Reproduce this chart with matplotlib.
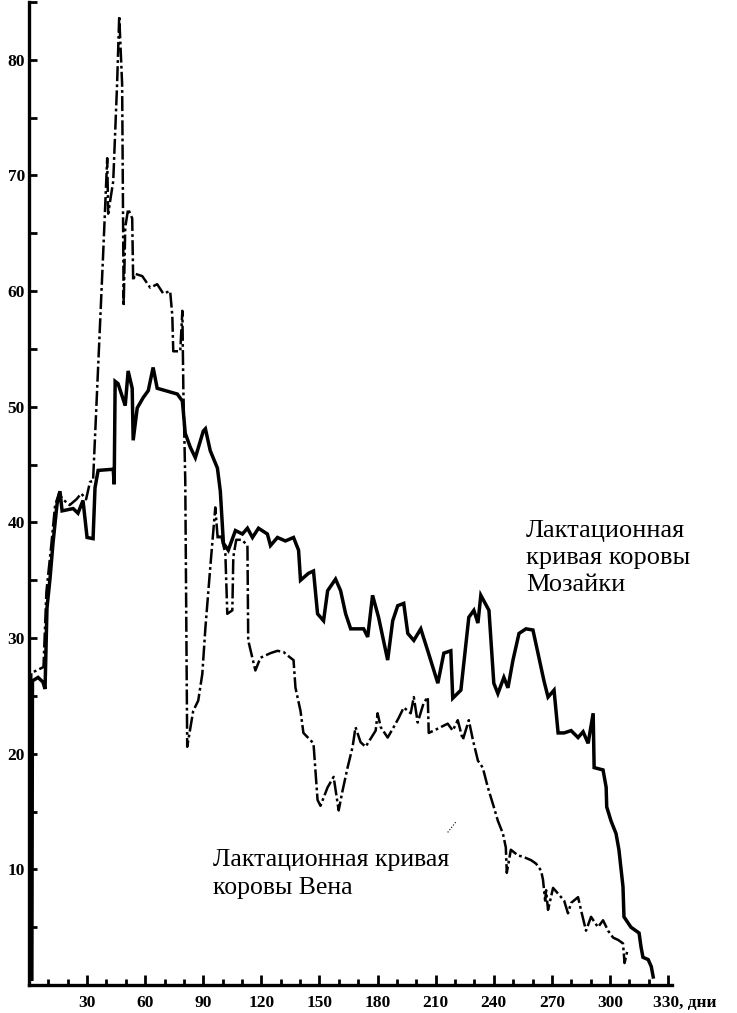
"""Lactation curves of two cows (Мозайка and Вена), scanned-figure style."""

import matplotlib

matplotlib.use("Agg")
import matplotlib.pyplot as plt
from matplotlib.ticker import MultipleLocator
import matplotlib.transforms as mtransforms

# ---------------------------------------------------------------------------
# Data: day of lactation -> daily milk yield
# ---------------------------------------------------------------------------
MOZAIKA_DAYS = [
    1.5, 1.8, 4.7, 7.2, 8.3, 9.3, 10.9, 12.4, 14.5, 16.0, 17.1, 22.8, 25.3,
    27.9, 30.0, 33.1, 34.1, 35.7, 43.5, 44.0, 44.5, 46.0, 49.7, 51.2, 53.3,
    53.8, 55.9, 59.0, 61.6, 64.1, 66.2, 70.4, 76.6, 79.2, 80.7, 83.3, 85.9,
    90.0, 91.1, 93.6, 97.3, 98.8, 100.4, 102.9, 106.6, 110.2, 112.8, 115.4,
    118.5, 123.1, 124.7, 128.3, 132.4, 136.6, 139.2, 140.2, 144.3, 146.9,
    149.0, 152.1, 154.2, 158.3, 160.9, 163.5, 166.1, 172.8, 174.9, 177.4,
    180.5, 185.2, 187.8, 190.4, 193.5, 195.6, 198.7, 202.3, 205.9, 211.1,
    214.2, 217.8, 218.8, 223.0, 227.1, 229.7, 231.8, 233.3, 237.5, 240.0,
    242.1, 245.2, 247.3, 249.9, 253.0, 256.6, 260.2, 262.8, 265.9, 268.0,
    271.1, 273.2, 276.3, 279.9, 283.5, 286.1, 288.7, 291.3, 291.8, 296.4,
    298.0, 298.3, 300.5, 303.1, 304.6, 306.7, 307.2, 310.8, 315.0, 316.0,
    317.0, 319.7, 321.3, 322.3,
]
MOZAIKA_YIELD = [
    0.5, 26.3, 26.6, 26.2, 25.6, 32.6, 35.2, 38.2, 41.6, 42.7, 41.0, 41.2, 40.8,
    41.9, 38.7, 38.6, 43.0, 44.5, 44.6, 43.3, 52.2, 52.0, 50.1, 53.1, 51.6,
    47.1, 49.9, 50.8, 51.4, 53.4, 51.6, 51.4, 51.1, 50.5, 47.7, 46.5, 45.6,
    47.9, 48.1, 46.2, 44.7, 42.7, 38.2, 37.6, 39.3, 39.0, 39.5, 38.7,
    39.5, 39.0, 38.0, 38.7, 38.4, 38.7, 37.6, 35.0, 35.6, 35.8,
    32.1, 31.5, 34.1, 35.1, 34.1, 32.1, 30.8, 30.8, 30.1, 33.7,
    31.8, 28.1, 31.5, 32.8, 33.0, 30.4, 29.8, 30.8, 28.9, 26.1,
    28.7, 28.9, 24.8, 25.5, 31.8, 32.4, 31.3, 33.7, 32.4, 26.1,
    25.2, 26.6, 25.7, 28.1, 30.4, 30.8, 30.7, 28.7, 26.3, 24.9,
    25.5, 21.8, 21.8, 22.0, 21.4, 21.9, 20.9, 23.5, 18.8, 18.6,
    17.1, 15.4, 14.2, 13.1, 11.7, 8.5, 5.9, 5.0, 4.5, 3.3,
    2.4, 2.2, 1.6, 0.7,
]

VENA_DAYS = [
    0.8, 1.2, 4.0, 7.5, 9.0, 11.5, 13.5, 15.5, 17.5, 21.0, 24.5, 27.0, 29.5,
    31.5, 33.1, 38.3, 40.4, 40.9, 43.5, 45.5, 46.6, 48.1, 48.6, 48.9, 49.7,
    51.2, 53.3, 53.8, 54.8, 58.5, 62.6, 66.2, 69.3, 72.9, 74.0, 74.5, 78.1,
    79.2, 79.7, 80.7, 81.7, 84.8, 87.4, 89.5, 91.1, 93.6, 96.2, 97.5, 99.0,
    101.4, 102.4, 105.0, 105.5, 107.0, 110.0, 112.8, 113.2, 116.9, 119.5,
    124.7, 128.3, 131.4, 135.0, 136.6, 137.6, 140.2, 141.7, 146.9, 149.0,
    150.5, 154.2, 157.3, 159.9, 161.9, 164.5, 167.1, 168.6, 171.2, 173.8,
    179.0, 180.0, 181.6, 185.2, 188.3, 190.9, 193.5, 197.1, 198.7, 200.7,
    203.8, 205.9, 206.4, 209.0, 212.6, 216.2, 218.8, 221.4, 224.0, 227.1,
    229.2, 231.8, 234.3, 236.9, 240.0, 242.1, 244.7, 246.2, 246.7, 248.8,
    252.5, 255.0, 259.2, 261.8, 264.4, 265.4, 266.5, 267.0, 268.0, 270.6,
    273.2, 276.3, 278.3, 279.9, 283.5, 285.0, 287.6, 290.2, 293.8, 296.4,
    299.0, 301.6, 304.2, 306.7, 307.5, 309.0,
]
VENA_YIELD = [
    0.5, 27.0, 27.2, 27.5, 34.0, 38.0, 41.5, 42.5, 42.0, 41.5, 42.0, 42.5, 42.0,
    43.5, 43.6, 63.2, 71.5, 66.7, 69.5, 77.9, 83.8, 77.9, 66.0, 58.7, 65.5,
    67.1, 66.3, 60.9, 61.5, 61.3, 60.3, 60.6, 59.8, 60.0, 57.9, 54.8, 54.8,
    58.3, 51.6, 43.6, 20.6, 23.7, 24.6, 26.9, 30.9, 36.1, 41.3, 38.5, 39.0,
    37.3, 32.1, 32.4, 37.0, 38.5, 38.5, 38.0, 29.8, 27.2, 28.3,
    28.7, 28.9, 28.8, 28.3, 28.1, 25.7, 23.7, 21.8, 20.9, 16.0,
    15.5, 17.1, 18.0, 15.1, 16.8, 18.8, 20.6, 22.3, 21.0, 20.6,
    22.0, 23.5, 22.3, 21.4, 22.3, 23.1, 24.0, 23.5, 24.9, 22.7,
    24.4, 24.9, 21.8, 22.0, 22.3, 22.6, 22.0, 22.9, 21.2, 22.9,
    21.2, 19.4, 18.8, 17.1, 15.4, 14.2, 13.1, 11.9, 9.7, 11.7,
    11.2, 11.1, 10.8, 10.5, 9.9, 9.1, 7.3, 8.2, 6.5, 8.4,
    7.9, 7.3, 6.2, 7.1, 7.6, 6.5, 4.7, 5.9, 5.0, 5.6,
    4.7, 4.1, 3.9, 3.6, 1.9, 3.0,
]

X_TICKS = [30, 60, 90, 120, 150, 180, 210, 240, 270, 300, 330]
X_TICK_LABELS = ["30", "60", "90", "120", "150", "180", "210", "240", "270",
                 "300", "330, дни"]
Y_TICKS = [10, 20, 30, 40, 50, 60, 70, 80]

LABEL_MOZAIKA = "Лактационная\nкривая коровы\nМозайки"
LABEL_VENA = "Лактационная кривая\nкоровы Вена"

# ---------------------------------------------------------------------------
# Style
# ---------------------------------------------------------------------------
INK = "black"
SERIF = ["Liberation Serif", "DejaVu Serif"]
TICK_SIZE = 12.5
TEXT_SIZE = 19


def main() -> None:
    fig = plt.figure(figsize=(7.37, 10.13), dpi=100)
    ax = fig.add_axes([0.0393, 0.0276, 0.8725, 0.9704])

    ax.plot(MOZAIKA_DAYS, MOZAIKA_YIELD, color=INK, linewidth=2.5,
            solid_joinstyle="miter")
    ax.plot(VENA_DAYS, VENA_YIELD, color=INK, linewidth=1.8,
            linestyle=(0, (6, 1.3, 1.1, 1.3)))

    ax.set_xlim(0, 332)
    ax.set_ylim(0, 85)

    # Axes: only left and bottom, thick, ticks pointing inward
    for side in ("top", "right"):
        ax.spines[side].set_visible(False)
    for side in ("left", "bottom"):
        ax.spines[side].set_linewidth(2.4)

    ax.set_xticks(X_TICKS)
    ax.set_xticklabels(X_TICK_LABELS)
    ax.xaxis.set_minor_locator(MultipleLocator(10))
    ax.set_yticks(Y_TICKS)
    ax.yaxis.set_minor_locator(MultipleLocator(5))

    ax.tick_params(axis="both", which="both", direction="in", width=2.0,
                   labelsize=TICK_SIZE)
    ax.tick_params(axis="x", which="major", length=7, pad=7)
    ax.tick_params(axis="x", which="minor", length=4)
    ax.tick_params(axis="y", which="both", length=6, pad=3)

    for lab in ax.get_xticklabels() + ax.get_yticklabels():
        lab.set_fontfamily(SERIF)
        lab.set_fontweight("bold")

    # last x label carries the unit: start it just left of its tick
    last = ax.get_xticklabels()[-1]
    last.set_horizontalalignment("left")
    last.set_transform(last.get_transform() + mtransforms.ScaledTranslation(
        -15 / 100, 0, fig.dpi_scale_trans))

    ax.text(256.6, 40.2, LABEL_MOZAIKA, family=SERIF, fontsize=TEXT_SIZE,
            ha="left", va="top", linespacing=1.3, color=INK)
    ax.text(95.2, 11.8, LABEL_VENA, family=SERIF, fontsize=TEXT_SIZE - 0.5,
            ha="left", va="top", linespacing=1.35, color=INK)
    # small dotted leader stroke near the Вена label
    ax.plot([216.2, 220.4], [13.2, 14.1], color=INK, linewidth=0.8,
            linestyle=":")

    fig.savefig("out.png", dpi=100)
    plt.close(fig)


if __name__ == "__main__":
    main()
